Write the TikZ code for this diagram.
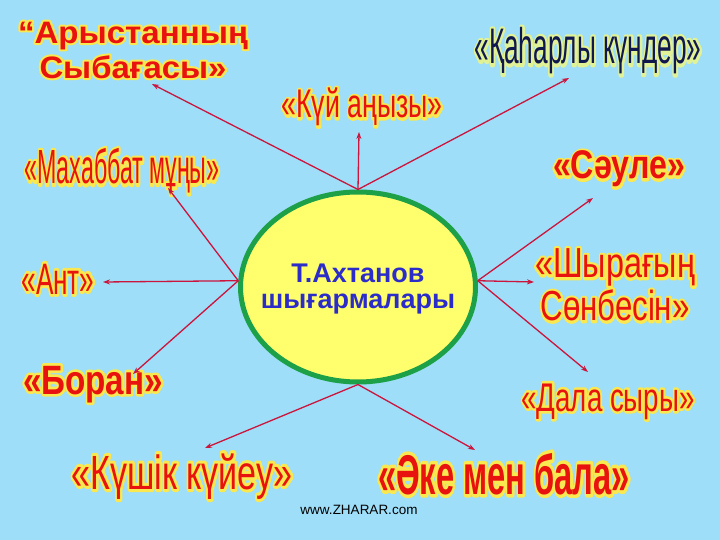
\documentclass[tikz,border=0pt]{standalone}
\usepackage{fontspec}
\setmainfont{Liberation Sans}
\newfontfamily\haloreg[FakeBold=13]{Liberation Sans}
\newfontfamily\halobold[FakeBold=13]{Liberation Sans Bold}
\usepackage{graphicx}
\usetikzlibrary{arrows.meta,shapes.geometric}
\definecolor{sky}{RGB}{158,222,248}
\definecolor{titlered}{RGB}{232,18,14}
\definecolor{halo}{RGB}{250,232,80}
\definecolor{halolight}{RGB}{225,242,150}
\definecolor{navy}{RGB}{16,24,78}
\definecolor{rim}{RGB}{28,160,72}
\definecolor{lemon}{RGB}{255,255,110}
\definecolor{inkblue}{RGB}{44,44,200}
\definecolor{arrowred}{RGB}{205,20,60}
\newsavebox\fitbox
\makeatletter
\newcommand\fitw[2]{\sbox\fitbox{#2}\scalebox{\fpeval{#1/\strip@pt\wd\fitbox}}[1]{\usebox\fitbox}}
\makeatother
% #1 halo colour, #2 halo font, #3 text
\newcommand\halo[3]{\leavevmode\rlap{\pgfsetroundjoin\color{#1}#2#3}#3}
\newcommand\fsz[1]{\fontsize{#1}{1.12\dimexpr#1pt\relax}\selectfont}
\begin{document}
\begin{tikzpicture}[x=1pt,y=-1pt,>={Stealth[length=7pt,width=5pt]},
    title/.style={text=titlered,inner sep=0pt,anchor=base},
    link/.style={draw=arrowred,line width=1.3pt,->}]
\fill[sky] (0,0) rectangle (720,540);
\useasboundingbox (0,0) rectangle (720,540);
\node[ellipse,draw=rim,line width=5pt,fill=lemon,minimum width=235pt,minimum height=190pt,inner sep=0pt] (centre) at (358,287) {};
\node[text=inkblue,font=\bfseries\fontsize{27}{26}\selectfont,align=center,inner sep=0pt] (author) at (358,289) {Т.Ахтанов\\шығармалары};
\node[title,anchor=center,font=\bfseries\fontsize{31}{35}\selectfont,align=center] (arystan) at (133,50)
  {\fitw{230}{\halo{halo}{\halobold}{“Арыстанның}}\\\fitw{187}{\halo{halo}{\halobold}{Сыбағасы»}}};
\node[title,font=\fsz{40}] (kuy) at (362,118) {\fitw{161}{\halo{halo}{\haloreg}{«Күй аңызы»}}};
\node[title,text=navy,font=\fsz{50}] (qaharly) at (588,64) {\fitw{227}{\halo{halolight}{\haloreg}{«Қаһарлы күндер»}}};
\node[title,font=\fsz{48}] (mahabbat) at (122,184) {\fitw{195}{\halo{halo}{\haloreg}{«Махаббат мұңы»}}};
\node[title,font=\bfseries\fsz{40}] (saule) at (619,179) {\fitw{132}{\halo{halo}{\halobold}{«Сәуле»}}};
\node[title,font=\fsz{44}] (ant) at (58,294) {\fitw{73}{\halo{halo}{\haloreg}{«Ант»}}};
\node[title,anchor=center,font=\fontsize{42}{43}\selectfont,align=center] (shyragyn) at (615,285)
  {\fitw{160}{\halo{halo}{\haloreg}{«Шырағың}}\\\fitw{149}{\halo{halo}{\haloreg}{Сөнбесін»}}};
\node[title,font=\bfseries\fsz{41}] (boran) at (93,394) {\fitw{140}{\halo{halo}{\halobold}{«Боран»}}};
\node[title,font=\fsz{40}] (dala) at (608,411) {\fitw{173}{\halo{halo}{\haloreg}{«Дала сыры»}}};
\node[title,font=\fsz{48}] (kushik) at (182,489) {\fitw{221}{\halo{halo}{\haloreg}{«Күшік күйеу»}}};
\node[title,font=\bfseries\fsz{56}] (ake) at (504,494) {\fitw{252}{\halo{halo}{\halobold}{«Әке мен бала»}}};
\node[inner sep=0pt,anchor=base,font=\fontsize{13.5}{15}\selectfont] (site) at (359,514) {www.ZHARAR.com};
\coordinate (arystan-tip) at (152,84);
\coordinate (kuy-tip) at (359,132);
\coordinate (qaharly-tip) at (569,78);
\coordinate (mahabbat-tip) at (168,188);
\coordinate (ant-tip) at (103,282);
\coordinate (boran-tip) at (133,374);
\coordinate (saule-tip) at (593,198);
\coordinate (shyragyn-tip) at (534,282);
\coordinate (dala-tip) at (588,372);
\coordinate (kushik-tip) at (205,448);
\coordinate (ake-tip) at (475,450);
\foreach \t in {arystan,kuy,qaharly}
  \draw[link] (centre.north) -- (\t-tip);
\foreach \t in {mahabbat,ant,boran}
  \draw[link] (centre.177) -- (\t-tip);
\foreach \t in {saule,shyragyn,dala}
  \draw[link] (centre.3) -- (\t-tip);
\foreach \t in {kushik,ake}
  \draw[link] (centre.south) -- (\t-tip);
\end{tikzpicture}
\end{document}
